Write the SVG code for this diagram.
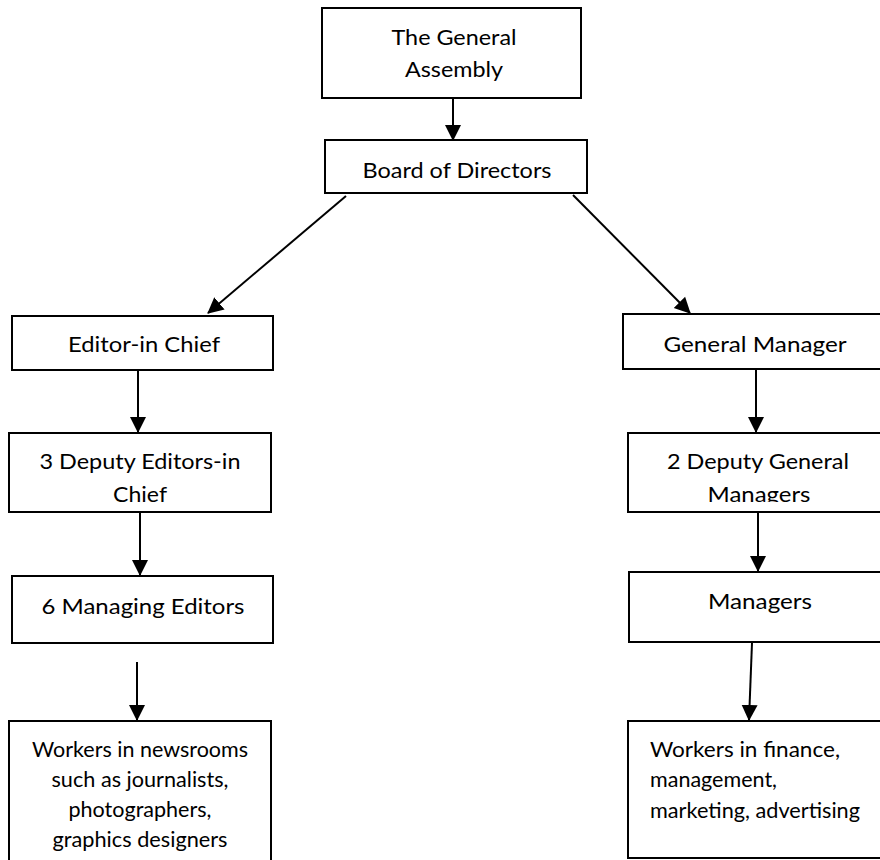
<svg xmlns="http://www.w3.org/2000/svg" width="880" height="860" viewBox="0 0 880 860">
<style>
.box{fill:#fff;stroke:#000;stroke-width:2}
.t{font-family:Lato,"Liberation Sans",sans-serif;font-size:22px;fill:#000}
.w{font-size:20.5px}
.c{text-anchor:middle}
.conn line{stroke:#000;stroke-width:2;marker-end:url(#ah)}
</style>
<defs>
<marker id="ah" markerUnits="userSpaceOnUse" markerWidth="16" markerHeight="18" viewBox="0 0 16 18" refX="15" refY="9" orient="auto">
<path d="M0,1 L16,9 L0,17 Z" fill="#000"/>
</marker>
<clipPath id="clipL"><rect x="0" y="0" width="440" height="502"/></clipPath>
<clipPath id="clipR"><rect x="440" y="0" width="440" height="502"/></clipPath>
</defs>
<rect width="880" height="860" fill="#fff"/>
<g id="connectors" class="conn">
<line x1="453" y1="99" x2="453" y2="140"/>
<line x1="346" y1="196" x2="208" y2="313"/>
<line x1="573" y1="195" x2="690" y2="313"/>
<line x1="138" y1="371" x2="138" y2="432"/>
<line x1="756" y1="370" x2="756" y2="432"/>
<line x1="140" y1="513" x2="140" y2="575"/>
<line x1="758" y1="513" x2="758" y2="571"/>
<line x1="137" y1="662" x2="137" y2="720"/>
<line x1="752" y1="643" x2="749" y2="720"/>
</g>
<g id="general-assembly">
<rect class="box" x="322" y="8" width="259" height="90"/>
<text class="t c" x="454" y="45" textLength="125" lengthAdjust="spacingAndGlyphs">The General</text>
<text class="t c" x="454" y="77" textLength="98" lengthAdjust="spacingAndGlyphs">Assembly</text>
</g>
<g id="board">
<rect class="box" x="325" y="140" width="262" height="53"/>
<text class="t c" x="457" y="178" textLength="189" lengthAdjust="spacingAndGlyphs">Board of Directors</text>
</g>
<g id="editor-in-chief">
<rect class="box" x="12" y="316" width="261" height="54"/>
<text class="t c" x="144" y="352" textLength="152" lengthAdjust="spacingAndGlyphs">Editor-in Chief</text>
</g>
<g id="general-manager">
<rect class="box" x="623" y="314" width="280" height="55"/>
<text class="t c" x="755" y="352" textLength="183" lengthAdjust="spacingAndGlyphs">General Manager</text>
</g>
<g id="deputy-editors">
<rect class="box" x="9" y="433" width="262" height="79"/>
<g clip-path="url(#clipL)">
<text class="t c" x="140" y="469" textLength="201" lengthAdjust="spacingAndGlyphs">3 Deputy Editors-in</text>
<text class="t c" x="140" y="502" textLength="54" lengthAdjust="spacingAndGlyphs">Chief</text>
</g>
</g>
<g id="deputy-gm">
<rect class="box" x="628" y="433" width="275" height="79"/>
<g clip-path="url(#clipR)">
<text class="t c" x="758" y="469" textLength="182" lengthAdjust="spacingAndGlyphs">2 Deputy General</text>
<text class="t c" x="759" y="502" textLength="103" lengthAdjust="spacingAndGlyphs">Managers</text>
</g>
</g>
<g id="managing-editors">
<rect class="box" x="12" y="576" width="261" height="67"/>
<text class="t c" x="143" y="614" textLength="203" lengthAdjust="spacingAndGlyphs">6 Managing Editors</text>
</g>
<g id="managers">
<rect class="box" x="629" y="572" width="275" height="70"/>
<text class="t c" x="760" y="609" textLength="104" lengthAdjust="spacingAndGlyphs">Managers</text>
</g>
<g id="workers-newsrooms">
<rect class="box" x="9" y="721" width="262" height="160"/>
<text class="t w c" x="140" y="757" textLength="216" lengthAdjust="spacingAndGlyphs">Workers in newsrooms</text>
<text class="t w c" x="140" y="787" textLength="177" lengthAdjust="spacingAndGlyphs">such as journalists,</text>
<text class="t w c" x="140" y="817" textLength="143" lengthAdjust="spacingAndGlyphs">photographers,</text>
<text class="t w c" x="140" y="847" textLength="175" lengthAdjust="spacingAndGlyphs">graphics designers</text>
</g>
<g id="workers-finance">
<rect class="box" x="628" y="721" width="275" height="137"/>
<text class="t w" x="650" y="757" textLength="190" lengthAdjust="spacingAndGlyphs">Workers in finance,</text>
<text class="t w" x="650" y="787" textLength="127" lengthAdjust="spacingAndGlyphs">management,</text>
<text class="t w" x="650" y="818" textLength="210" lengthAdjust="spacingAndGlyphs">marketing, advertising</text>
</g>
</svg>
